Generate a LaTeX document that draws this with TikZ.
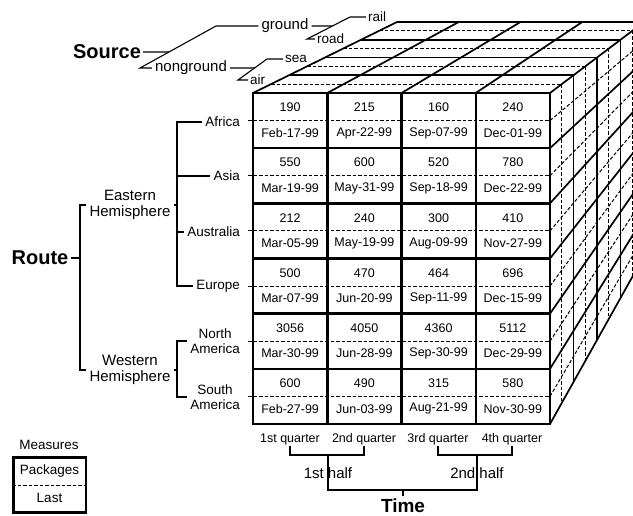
\documentclass[tikz,border=0pt]{standalone}
\usepackage{fontspec}
\setmainfont{Liberation Sans}
\usetikzlibrary{calc}

\begin{document}
\begin{tikzpicture}[x=1pt,y=-1pt,
    frontline/.style={line width=2.5pt},
    faceline/.style={line width=1.7pt},
    midline/.style={line width=1pt,dash pattern=on 3.5pt off 2pt},
    treeline/.style={line width=1.1pt},
    bigname/.style={font=\fontsize{20}{22}\bfseries\selectfont,inner sep=2pt},
    cell/.style={font=\fontsize{12.5}{14}\selectfont,inner sep=1pt},
    region/.style={font=\fontsize{13.5}{15}\selectfont,align=center,inner sep=3pt},
    hemi/.style={font=\fontsize{15}{16}\selectfont,align=center,inner sep=3pt},
    leaf/.style={font=\fontsize{13.5}{14}\selectfont,inner sep=2pt},
    legtext/.style={font=\fontsize{13.5}{14}\selectfont,inner sep=1pt}]
  \useasboundingbox (0,0) rectangle (633,515);
  \clip (0,0) rectangle (633,515);

  % top of the cube
  \foreach \k in {1,2,3,4}
    \draw[faceline] ({253+36*\k},{93-17.75*\k}) -- ({550+23.5*\k},{93-17.75*\k});
  \foreach \k in {0.5,1.5,2.5,3.5}
    \draw[midline] ({253+36*\k},{93-17.75*\k}) -- ({550+23.5*\k},{93-17.75*\k});
  \foreach \u in {0,0.25,0.5,0.75,1}
    \draw[faceline] ({253+297*\u},93) -- ({397+247*\u},22);

  % right side of the cube
  \foreach \k in {1,2,3,4}
    \draw[faceline] ({550+23.5*\k},{93-17.75*\k}) -- ({550+23.5*\k},{424-42*\k});
  \foreach \k in {0.5,1.5,2.5,3.5}
    \draw[midline] ({550+23.5*\k},{93-17.75*\k}) -- ({550+23.5*\k},{424-42*\k});
  \foreach \j in {1,...,6}
    \draw[faceline] (550,{93+331*\j/6}) -- (644,{22+234*\j/6});
  \foreach \j in {0.5,1.5,...,5.5}
    \draw[midline] (550,{93+331*\j/6}) -- (644,{22+234*\j/6});

  % front of the cube
  \foreach \j in {0.5,1.5,...,5.5}
    \draw[midline] (248,{93+331*\j/6}) -- (550,{93+331*\j/6});
  \foreach \j in {1,...,5}
    \draw[frontline] (253,{93+331*\j/6}) -- (550,{93+331*\j/6});
  \foreach \i in {1,2,3}
    \draw[frontline] ({253+74.25*\i},93) -- ({253+74.25*\i},424);
  \draw[frontline] (253,93) rectangle (550,424);

  \foreach \row [count=\ri from 0] in {
      {190/Feb-17-99,215/Apr-22-99,160/Sep-07-99,240/Dec-01-99},
      {550/Mar-19-99,600/May-31-99,520/Sep-18-99,780/Dec-22-99},
      {212/Mar-05-99,240/May-19-99,300/Aug-09-99,410/Nov-27-99},
      {500/Mar-07-99,470/Jun-20-99,464/Sep-11-99,696/Dec-15-99},
      {3056/Mar-30-99,4050/Jun-28-99,4360/Sep-30-99,5112/Dec-29-99},
      {600/Feb-27-99,490/Jun-03-99,315/Aug-21-99,580/Nov-30-99}}
    \foreach \pk/\dt [count=\ci from 0] in \row {
      \node[cell] (pk-\ri-\ci) at ({290.1+74.25*\ci},{93+331*\ri/6+14.5}) {\pk};
      \node[cell] (dt-\ri-\ci) at ({290.1+74.25*\ci},{93+331*\ri/6+40}) {\dt};
    }

  % source dimension
  \node[bigname] (source) at (107,52) {Source};
  \node[hemi] (ground) at (285,26) {ground};
  \node[hemi] (nonground) at (191,68) {nonground};
  \node[leaf,anchor=west] (rail) at (366,17) {rail};
  \node[leaf,anchor=west] (road) at (315,39) {road};
  \node[leaf,anchor=west] (sea) at (283,59) {sea};
  \node[leaf,anchor=west] (air) at (248,80) {air};
  \coordinate (sa) at (140,69);
  \coordinate (sb) at (216,27);
  \coordinate (ga) at (307,40);
  \coordinate (gb) at (350,17);
  \coordinate (na) at (238,80);
  \coordinate (nb) at (267,59);
  \draw[treeline] (ground.west) -- (ground.west -| sb) -- (nonground.west -| sa) -- (nonground.west);
  \draw[treeline] (source.east) -- ($(nonground.west -| sa)!0.38!(ground.west -| sb)$);
  \draw[treeline] (rail.west) -- (rail.west -| gb) -- (road.west -| ga) -- (road.west);
  \draw[treeline] (ground.east) -- ($(road.west -| ga)!0.59!(rail.west -| gb)$);
  \draw[treeline] (sea.west) -- (sea.west -| nb) -- (air.west -| na) -- (air.west);
  \draw[treeline] (nonground.east) -- ($(air.west -| na)!0.57!(sea.west -| nb)$);

  % route dimension
  \node[bigname] (route) at (40,258) {Route};
  \node[hemi] (eastern) at (130,205) {Eastern\\Hemisphere};
  \node[hemi] (western) at (130,370) {Western\\Hemisphere};
  \node[region,anchor=east] (africa) at (243,122) {Africa};
  \node[region,anchor=east] (asia) at (243,176) {Asia};
  \node[region,anchor=east] (australia) at (243,232) {Australia};
  \node[region,anchor=east] (europe) at (243,286) {Europe};
  \node[region,anchor=east] (namerica) at (243,341) {North\\America};
  \node[region,anchor=east] (samerica) at (243,397) {South\\America};
  \coordinate (rb) at (80,258);
  \coordinate (eb) at (177,205);
  \coordinate (wb) at (177,370);
  \draw[treeline] (route.east) -- (rb);
  \draw[treeline] (eastern.west) -- (eastern.west -| rb) -- (western.west -| rb) -- (western.west);
  \draw[treeline] (eastern.east) -- (eb);
  \draw[treeline] (africa.west) -- (africa.west -| eb) -- (europe.west -| eb) -- (europe.west);
  \draw[treeline] (asia.west) -- (asia.west -| eb);
  \draw[treeline] (australia.west) -- (australia.west -| eb);
  \draw[treeline] (western.east) -- (wb);
  \draw[treeline] (namerica.west) -- (namerica.west -| wb) -- (samerica.west -| wb) -- (samerica.west);

  % time dimension
  \node[cell] (q1) at (290,439) {1st quarter};
  \node[cell] (q2) at (364,439) {2nd quarter};
  \node[cell] (q3) at (438,439) {3rd quarter};
  \node[cell] (q4) at (512,439) {4th quarter};
  \node[hemi] (half1) at (328,473) {1st half};
  \node[hemi] (half2) at (477,473) {2nd half};
  \node[bigname,font=\fontsize{19}{21}\bfseries\selectfont] (time) at (403,505.5) {Time};
  \draw[treeline] (q1.south) |- (q2.south |- 0,455) -- (q2.south);
  \draw[treeline] (q3.south) |- (q4.south |- 0,455) -- (q4.south);
  \draw[treeline] (half1.center |- 0,455) -- (half1.center |- 0,490) -- (half2.center |- 0,490) -- (half2.center |- 0,455);
  \draw[treeline] (time.north) -- (time.north |- 0,490);

  % measures
  \node[legtext] (measures) at (49,445) {Measures};
  \node[draw,line width=2.5pt,minimum width=72.5pt,minimum height=55pt,inner sep=0pt] (legend) at (49.5,485) {};
  \node[legtext] (packages) at (49.5,471) {Packages};
  \node[legtext] (last) at (49.5,498) {Last};
  \draw[midline] (legend.west) -- (legend.east);
\end{tikzpicture}
\end{document}
